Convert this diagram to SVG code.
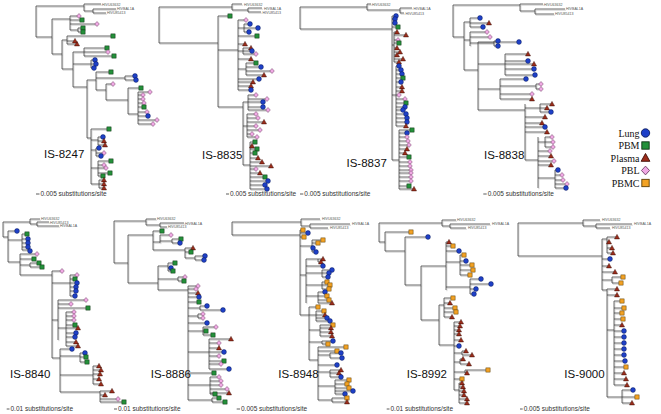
<svg xmlns="http://www.w3.org/2000/svg" xmlns:xlink="http://www.w3.org/1999/xlink" width="661" height="414" viewBox="0 0 661 414">
<style>
.sh{fill:none;stroke:#d4d4d4;stroke-width:1}
.ln{fill:none;stroke:#3a3a3a;stroke-width:0.75}
.bar{stroke:#333;stroke-width:0.8}
.lab{font-family:"Liberation Sans",Arial,sans-serif;font-size:3.6px;fill:#555}
.sc{font-family:"Liberation Sans",Arial,sans-serif;font-size:6.5px;fill:#333}
.is{font-family:"Liberation Sans",Arial,sans-serif;font-size:11.5px;fill:#111}
.lg{font-family:"Liberation Serif","Times New Roman",serif;font-size:10px;fill:#111;text-anchor:end}
</style>
<defs>
<circle id="c" r="2.4" fill="#1e40c8" stroke="#0b1a5a" stroke-width="0.5"/>
<rect id="s" x="-2.1" y="-2.1" width="4.2" height="4.2" fill="#24903a" stroke="#0c2e10" stroke-width="0.5"/>
<path id="t" d="M0,-2.6L2.5,1.9H-2.5Z" fill="#9c2c1a" stroke="#3c0c04" stroke-width="0.5"/>
<path id="d" d="M0,-2.5L2.3,0L0,2.5L-2.3,0Z" fill="#f0a8e4" stroke="#6a3a60" stroke-width="0.5"/>
<rect id="o" x="-2.1" y="-2.1" width="4.2" height="4.2" fill="#f2a224" stroke="#5a3a00" stroke-width="0.5"/>
<path id="p1" d="M36,6V37M36,6H84M84,4V11M84,4H101M84,11H93M93,9V13M93,9H116M93,13H106M36,37H52M52,19V54M52,19H70M70,16V30M70,16H79M70,20H82M70,24H97M70,30H78M78,28V32M78,28H83M78,32H83M52,54H62M62,40V69M62,40H67M67,36V44M67,36H113M67,41H75M67,44H77M62,69H73M73,52V87M73,52H84M84,48V56M84,48H107M84,52H106M84,56H112M73,64H91M91,60V68M91,60H95M91,64H96M91,68H94M73,87H87M87,80V138M87,80H96M96,72V90M96,72H111M96,78H125M125,76V80M125,76H135M125,80H136M96,90H106M106,84V100M106,84H113M106,100H128M128,88V114M128,88H141M128,114H138M138,92V124M138,92H150M138,95H143M138,99H143M138,103H144M138,107H144M138,112H147M138,116H148M138,120H157M138,124H153M87,138H91M91,129V184M91,129H109M91,140H98M98,137V145M98,137H103M98,141H104M98,145H105M91,150H96M96,148V156M96,148H99M96,153H104M96,156H101M91,168H98M98,161V176M98,161H111M98,165H104M98,168H106M98,173H110M98,176H103M91,184H99M99,180V188M99,180H104M99,184H104M99,188H104"/>
<path id="p2" d="M159,7V43M159,7H232M232,4V10M232,4H242M232,10H248M248,8V12M248,8H262M248,12H261M159,43H218M218,16V107M218,16H230M218,50H238M238,20V90M238,20H246M238,28H244M244,24V32M244,24H250M244,28H258M244,32H249M238,36H257M238,44H245M238,51H243M243,48V54M243,48H251M243,51H252M243,54H256M238,59H251M238,69H246M246,63V75M246,63H256M246,67H261M246,71H272M246,75H264M238,79H259M238,82H253M238,86H251M238,90H251M218,107H243M243,102V165M243,102H248M248,95V110M248,95H256M248,99H267M248,102H263M248,107H263M248,110H268M243,126H247M247,114V137M247,114H256M247,118H258M247,122H264M247,126H256M247,130H260M247,134H252M247,137H257M243,165H250M250,142V189M250,142H255M250,146H252M250,149H257M250,153H255M250,158H258M250,162H262M250,166H271M250,169H256M250,173H260M250,177H265M250,181H268M250,185H265M250,189H267"/>
<path id="p3" d="M300,7V29M300,7H367M367,4V10M367,4H371M367,10H400M400,8V13M400,8H412M400,13H404M300,29H392M392,16V160M392,16H396M392,19H395M392,23H395M392,27H398M392,45H394M394,32V62M394,32H397M394,35H406M394,40H398M394,43H399M394,48H397M394,52H400M394,55H397M394,59H403M394,62H399M392,95H396M396,66V126M396,66H399M396,70H401M396,74H402M396,78H403M396,82H401M396,87H402M396,91H402M396,95H399M396,99H405M396,103H406M396,107H405M396,110H403M396,114H406M396,118H407M396,122H407M396,126H406M392,160H399M399,130V189M399,130H412M399,133H407M399,137H407M399,141H408M399,145H409M399,149H407M399,153H405M399,157H409M399,162H410M399,166H410M399,170H411M399,173H411M399,177H411M399,181H411M399,186H409M399,189H414"/>
<path id="p4" d="M453,5V37M453,5H520M520,4V11M520,4H543M520,11H535M535,9V14M535,9H565M535,14H554M453,37H464M464,22V70M464,22H470M470,18V27M470,18H480M470,23H489M470,27H483M464,40H470M470,32V46M470,32H487M470,37H490M470,43H494M494,41V46M494,41H498M494,46H498M464,70H478M478,42V110M478,42H519M478,64H505M505,54V75M505,54H528M505,61H528M505,64H534M505,69H534M505,75H535M478,89H500M500,79V99M500,79H526M500,86H536M536,84V89M536,84H541M536,89H541M500,94H532M500,99H532M478,110H525M525,104V160M525,108H540M540,104V112M540,104H552M540,108H547M540,112H551M525,117H545M525,123H542M525,127H545M525,132H547M525,160H538M538,137V188M538,142H545M545,137V147M545,137H552M545,142H553M545,147H553M538,151H550M538,156H551M538,161H554M538,165H551M538,178H555M555,170V188M555,170H558M555,175H562M555,180H563M555,184H567M555,188H566"/>
<path id="p5" d="M3,222V237M3,222H30M30,219V224M30,219H40M30,224H37M37,222V226M37,222H49M37,226H59M3,237H8M8,231V262M8,231H17M8,240H22M22,234V250M22,234H27M22,239H28M22,243H28M22,247H28M22,250H30M8,262H20M20,254V275M20,254H37M20,259H34M20,265H30M30,263V267M30,263H39M30,267H42M20,275H52M52,271V358M52,271H62M52,283H70M70,275V296M70,275H77M70,279H75M70,283H77M70,287H76M70,291H76M70,296H75M52,320H58M58,300V340M58,300H86M58,304H71M58,308H88M58,328H66M66,312V346M66,312H74M66,316H74M66,320H74M66,325H75M66,328H78M66,333H76M66,337H75M66,342H76M66,346H78M52,358H60M60,349V392M60,349H72M60,356H80M80,353V362M80,353H85M80,357H86M80,362H87M60,375H93M93,366V384M93,366H99M93,370H101M93,374H100M93,379H99M93,384H101M60,392H100M100,391V402M100,391H112M100,395H105M100,399H118M100,402H124"/>
<path id="p6" d="M114,221V263M114,221H146M146,219V225M146,219H156M146,225H160M160,223V227M160,223H184M160,227H167M114,263H128M128,235V283M128,235H153M153,231V250M153,231H162M153,242H160M160,235V243M160,235H171M160,241H172M172,239V243M172,239H181M172,243H180M153,250H185M185,248V258M185,248H193M185,252H191M185,258H195M195,256V260M195,256H205M195,260H204M128,283H158M158,266V290M158,266H168M168,263V271M168,263H175M168,268H171M168,271H173M158,279H178M178,277V281M178,277H185M178,281H184M158,290H188M188,286V400M188,286H198M188,289H196M188,293H198M188,297H199M188,302H199M188,308H200M200,306V310M200,306H207M200,310H223M188,316H198M198,314V318M198,314H203M198,318H203M188,323H207M188,331H203M203,327V335M203,327H216M203,331H206M203,335H213M188,352H209M209,339V369M209,339H231M209,343H219M209,348H219M209,352H224M209,356H219M209,361H224M209,364H221M209,369H229M188,373H214M188,385H210M210,377V394M210,377H219M210,381H221M210,385H221M210,389H227M210,393H229M210,394H215M188,400H212M212,398V402M212,398H219M212,402H225"/>
<path id="p7" d="M232,222V235M232,222H301M301,219V226M301,219H320M301,226H310M310,224V228M310,224H350M310,228H328M232,235H300M300,230V315M300,230H303M300,233H308M300,237H304M300,246H312M312,240V252M312,240H323M312,243H318M312,248H313M312,252H316M300,275H306M306,259V303M306,259H318M318,259V262M318,259H323M318,262H321M306,266H323M306,273H322M322,270V277M322,270H332M322,273H329M322,277H328M306,285H322M322,282V289M322,282H327M322,285H330M322,289H329M306,296H318M318,292V303M318,292H325M318,296H327M318,300H329M318,303H332M300,315H309M309,307V360M309,307H318M309,315H316M316,311V321M316,311H324M316,315H325M316,318H327M316,321H330M309,330H320M320,325V336M320,325H333M320,328H331M320,332H331M320,336H332M309,342H322M322,341V344M322,341H333M322,344H328M309,360H318M318,347V400M318,347H346M318,351H337M318,355H330M330,353V358M330,353H341M330,358H342M318,365H337M318,372H330M330,370V377M330,370H341M330,373H339M330,377H341M318,386H335M335,380V394M335,380H349M335,384H347M335,388H349M335,391H353M335,394H345M318,400H332M332,398V402M332,398H347M332,402H347"/>
<path id="p8" d="M379,223V242M379,223H442M442,220V226M442,220H456M442,226H450M450,224V228M450,224H490M450,228H466M379,242H385M385,232V251M385,232H411M385,251H405M405,237V285M405,237H428M405,285H421M421,266V320M421,266H446M446,242V290M446,242H449M446,246H453M446,251H459M446,262H460M460,255V275M460,255H464M460,261H466M460,265H472M460,270H473M460,275H470M446,287H470M470,279V294M470,279H481M470,284H491M470,289H476M470,294H474M421,320H439M439,305V345M439,305H444M444,298V317M444,298H453M444,303H450M444,308H455M444,312H456M444,317H452M439,345H454M454,322V390M454,322H461M454,326H460M454,330H459M454,334H459M454,340H461M454,346H459M454,353H462M462,351V355M462,351H466M462,355H472M454,362H460M460,359V364M460,359H463M460,364H469M454,372H465M465,370V373M465,370H488M465,373H467M454,379H462M454,390H459M459,383V403M459,383H462M459,387H463M459,391H464M459,395H464M459,399H467M459,403H467"/>
<path id="p9" d="M518,223V256M518,223H583M583,220V226M583,220H600M583,226H596M596,224V228M596,224H632M596,228H610M518,256H602M602,239V290M602,239H607M607,237V253M607,237H617M607,242H609M607,248H612M607,253H613M602,259H610M602,266H609M602,272H615M602,280H612M612,277V283M612,277H623M612,283H621M602,290H607M607,289V397M607,289H617M607,295H617M607,330H614M614,301V385M614,301H622M614,308H624M614,313H622M614,319H623M614,325H622M614,331H624M614,337H624M614,343H624M614,349H624M614,355H624M614,361H625M614,367H626M614,373H624M614,379H626M614,385H627M607,397H622M622,390V403M622,390H633M622,397H637M622,403H632"/>
</defs>
<rect width="661" height="414" fill="#fff"/>

<g id="connectors">
<use href="#p1" class="sh" transform="translate(0.9,1.2)"/>
<use href="#p2" class="sh" transform="translate(0.9,1.2)"/>
<use href="#p3" class="sh" transform="translate(0.9,1.2)"/>
<use href="#p4" class="sh" transform="translate(0.9,1.2)"/>
<use href="#p5" class="sh" transform="translate(0.9,1.2)"/>
<use href="#p6" class="sh" transform="translate(0.9,1.2)"/>
<use href="#p7" class="sh" transform="translate(0.9,1.2)"/>
<use href="#p8" class="sh" transform="translate(0.9,1.2)"/>
<use href="#p9" class="sh" transform="translate(0.9,1.2)"/>
<use href="#p1" class="ln"/>
<use href="#p2" class="ln"/>
<use href="#p3" class="ln"/>
<use href="#p4" class="ln"/>
<use href="#p5" class="ln"/>
<use href="#p6" class="ln"/>
<use href="#p7" class="ln"/>
<use href="#p8" class="ln"/>
<use href="#p9" class="ln"/>
</g>

<g id="tree-IS-8247">
<text class="lab" x="102" y="5.6">HIVU63632</text><text class="lab" x="117" y="10.4">HIVBAL1A</text><text class="lab" x="107" y="14.4">HIVU85413</text>
<use href="#d" x="79" y="16"/><use href="#s" x="82" y="20"/><use href="#d" x="97" y="24"/><use href="#s" x="83" y="28"/><use href="#s" x="83" y="32"/><use href="#s" x="113" y="36"/><use href="#t" x="75" y="41"/><use href="#t" x="77" y="44"/><use href="#s" x="107" y="48"/><use href="#d" x="108" y="52"/><use href="#s" x="114" y="56"/><use href="#c" x="95" y="60"/><use href="#c" x="96" y="64"/><use href="#c" x="94" y="68"/><use href="#s" x="111" y="72"/><use href="#c" x="135" y="76"/><use href="#c" x="136" y="80"/><use href="#d" x="113" y="84"/><use href="#s" x="141" y="88"/><use href="#d" x="150" y="92"/><use href="#d" x="143" y="95"/><use href="#d" x="143" y="99"/><use href="#d" x="144" y="103"/><use href="#s" x="144" y="107"/><use href="#d" x="147" y="112"/><use href="#c" x="148" y="116"/><use href="#d" x="157" y="120"/><use href="#d" x="153" y="124"/><use href="#s" x="109" y="129"/><use href="#c" x="103" y="137"/><use href="#t" x="104" y="141"/><use href="#t" x="105" y="145"/><use href="#c" x="99" y="148"/><use href="#d" x="104" y="153"/><use href="#c" x="101" y="156"/><use href="#s" x="111" y="161"/><use href="#d" x="104" y="165"/><use href="#d" x="106" y="168"/><use href="#s" x="110" y="173"/><use href="#s" x="103" y="176"/><use href="#t" x="104" y="180"/><use href="#t" x="104" y="184"/><use href="#t" x="104" y="188"/>
<text class="is" x="44" y="158">IS-8247</text>
<line class="bar" x1="36" y1="194" x2="39.5" y2="194"/><text class="sc" x="40.5" y="196.3">0.005 substitutions/site</text>
</g>

<g id="tree-IS-8835">
<text class="lab" x="244" y="5.6">HIVU63632</text><text class="lab" x="264" y="9.5">HIVBAL1A</text><text class="lab" x="262.5" y="13.5">HIVU85413</text>
<use href="#s" x="230" y="16"/><use href="#d" x="246" y="20"/><use href="#c" x="250" y="24"/><use href="#c" x="258" y="28"/><use href="#c" x="249" y="32"/><use href="#s" x="257" y="36"/><use href="#t" x="245" y="44"/><use href="#t" x="251" y="48"/><use href="#c" x="252" y="51"/><use href="#d" x="256" y="54"/><use href="#t" x="251" y="59"/><use href="#s" x="256" y="63"/><use href="#c" x="261" y="67"/><use href="#d" x="272" y="71"/><use href="#t" x="264" y="75"/><use href="#c" x="259" y="79"/><use href="#t" x="253" y="82"/><use href="#t" x="251" y="86"/><use href="#c" x="251" y="90"/><use href="#d" x="256" y="95"/><use href="#d" x="267" y="99"/><use href="#c" x="263" y="102"/><use href="#c" x="263" y="107"/><use href="#d" x="268" y="110"/><use href="#d" x="256" y="114"/><use href="#d" x="258" y="118"/><use href="#t" x="264" y="122"/><use href="#d" x="256" y="126"/><use href="#d" x="260" y="130"/><use href="#d" x="252" y="134"/><use href="#d" x="257" y="137"/><use href="#s" x="255" y="142"/><use href="#t" x="252" y="146"/><use href="#s" x="257" y="149"/><use href="#s" x="255" y="153"/><use href="#t" x="258" y="158"/><use href="#t" x="262" y="162"/><use href="#t" x="271" y="166"/><use href="#d" x="256" y="169"/><use href="#t" x="260" y="173"/><use href="#s" x="265" y="177"/><use href="#c" x="268" y="181"/><use href="#c" x="265" y="185"/><use href="#c" x="267" y="189"/>
<text class="is" x="202" y="159">IS-8835</text>
<line class="bar" x1="226" y1="194" x2="229" y2="194"/><text class="sc" x="230" y="196.3">0.005 substitutions/site</text>
</g>

<g id="tree-IS-8837">
<text class="lab" x="372" y="5.6">HIVU63632</text><text class="lab" x="413.5" y="9.6">HIVBAL1A</text><text class="lab" x="405.5" y="14.6">HIVU85413</text>
<use href="#c" x="396" y="16"/><use href="#c" x="395" y="19"/><use href="#c" x="395" y="23"/><use href="#s" x="398" y="27"/><use href="#t" x="397" y="32"/><use href="#t" x="406" y="35"/><use href="#d" x="398" y="40"/><use href="#s" x="399" y="43"/><use href="#t" x="397" y="48"/><use href="#t" x="400" y="52"/><use href="#t" x="397" y="55"/><use href="#t" x="403" y="59"/><use href="#t" x="399" y="62"/><use href="#c" x="399" y="66"/><use href="#c" x="401" y="70"/><use href="#c" x="402" y="74"/><use href="#s" x="403" y="78"/><use href="#c" x="401" y="82"/><use href="#t" x="402" y="87"/><use href="#t" x="402" y="91"/><use href="#d" x="399" y="95"/><use href="#d" x="405" y="99"/><use href="#s" x="406" y="103"/><use href="#c" x="405" y="107"/><use href="#c" x="403" y="110"/><use href="#c" x="406" y="114"/><use href="#c" x="407" y="118"/><use href="#c" x="407" y="122"/><use href="#t" x="406" y="126"/><use href="#s" x="412" y="130"/><use href="#c" x="407" y="133"/><use href="#d" x="407" y="137"/><use href="#d" x="408" y="141"/><use href="#d" x="409" y="145"/><use href="#t" x="407" y="149"/><use href="#t" x="405" y="153"/><use href="#s" x="409" y="157"/><use href="#d" x="410" y="162"/><use href="#d" x="410" y="166"/><use href="#d" x="411" y="170"/><use href="#d" x="411" y="173"/><use href="#d" x="411" y="177"/><use href="#d" x="411" y="181"/><use href="#s" x="409" y="186"/><use href="#t" x="414" y="189"/>
<text class="is" x="346.5" y="166.5">IS-8837</text>
<line class="bar" x1="300" y1="194" x2="303.3" y2="194"/><text class="sc" x="304.3" y="196.3">0.005 substitutions/site</text>
</g>

<g id="tree-IS-8838">
<text class="lab" x="544" y="5.6">HIVU63632</text><text class="lab" x="566" y="10.4">HIVBAL1A</text><text class="lab" x="555" y="15.4">HIVU85413</text>
<use href="#c" x="480" y="18"/><use href="#t" x="489" y="23"/><use href="#c" x="483" y="27"/><use href="#d" x="487" y="32"/><use href="#d" x="490" y="37"/><use href="#c" x="498" y="41"/><use href="#c" x="498" y="46"/><use href="#c" x="519" y="42"/><use href="#t" x="528" y="54"/><use href="#c" x="528" y="61"/><use href="#t" x="534" y="64"/><use href="#c" x="534" y="69"/><use href="#c" x="535" y="75"/><use href="#c" x="526" y="79"/><use href="#d" x="541" y="84"/><use href="#d" x="541" y="89"/><use href="#d" x="532" y="94"/><use href="#t" x="532" y="99"/><use href="#t" x="552" y="104"/><use href="#t" x="547" y="108"/><use href="#c" x="551" y="112"/><use href="#t" x="545" y="117"/><use href="#t" x="542" y="123"/><use href="#c" x="545" y="127"/><use href="#t" x="547" y="132"/><use href="#d" x="552" y="137"/><use href="#d" x="553" y="142"/><use href="#d" x="553" y="147"/><use href="#d" x="550" y="151"/><use href="#t" x="551" y="156"/><use href="#d" x="554" y="161"/><use href="#t" x="551" y="165"/><use href="#c" x="558" y="170"/><use href="#d" x="562" y="175"/><use href="#d" x="563" y="180"/><use href="#d" x="567" y="184"/><use href="#c" x="566" y="188"/>
<text class="is" x="484" y="159">IS-8838</text>
<line class="bar" x1="483.3" y1="194" x2="486.7" y2="194"/><text class="sc" x="487.7" y="196.3">0.005 substitutions/site</text>
</g>

<g id="legend">
<text class="lg" x="639.5" y="136.5">Lung</text><use href="#c" transform="translate(645.5,133) scale(1.75)"/>
<text class="lg" x="639.5" y="149">PBM</text><use href="#s" transform="translate(645.5,145.5) scale(1.75)"/>
<text class="lg" x="639.5" y="161.5">Plasma</text><use href="#t" transform="translate(645.5,158) scale(1.75)"/>
<text class="lg" x="639.5" y="174">PBL</text><use href="#d" transform="translate(645.5,170.5) scale(1.75)"/>
<text class="lg" x="639.5" y="186.5">PBMC</text><use href="#o" transform="translate(645.5,183) scale(1.75)"/>
</g>

<g id="tree-IS-8840">
<text class="lab" x="41" y="220.3">HIVU63632</text><text class="lab" x="50" y="223.6">HIVU85413</text><text class="lab" x="60" y="227.4">HIVBAL1A</text>
<use href="#c" x="17" y="231"/><use href="#s" x="27" y="234"/><use href="#c" x="28" y="239"/><use href="#c" x="28" y="243"/><use href="#c" x="28" y="247"/><use href="#c" x="30" y="251"/><use href="#d" x="37" y="254"/><use href="#s" x="34" y="259"/><use href="#s" x="39" y="263"/><use href="#s" x="42" y="267"/><use href="#d" x="62" y="271"/><use href="#d" x="77" y="275"/><use href="#s" x="75" y="279"/><use href="#c" x="77" y="283"/><use href="#c" x="76" y="287"/><use href="#c" x="76" y="291"/><use href="#c" x="75" y="296"/><use href="#d" x="86" y="300"/><use href="#d" x="71" y="304"/><use href="#s" x="88" y="308"/><use href="#d" x="74" y="312"/><use href="#d" x="74" y="316"/><use href="#d" x="74" y="320"/><use href="#s" x="75" y="325"/><use href="#t" x="78" y="328"/><use href="#c" x="76" y="333"/><use href="#c" x="75" y="337"/><use href="#t" x="76" y="342"/><use href="#t" x="78" y="346"/><use href="#c" x="72" y="349"/><use href="#c" x="85" y="353"/><use href="#s" x="86" y="357"/><use href="#s" x="87" y="362"/><use href="#t" x="99" y="366"/><use href="#t" x="101" y="370"/><use href="#t" x="100" y="374"/><use href="#t" x="99" y="379"/><use href="#t" x="101" y="384"/><use href="#t" x="112" y="391"/><use href="#t" x="105" y="395"/><use href="#d" x="118" y="399"/><use href="#s" x="124" y="402"/>
<text class="is" x="10" y="377.7">IS-8840</text>
<line class="bar" x1="6.7" y1="409" x2="9.5" y2="409"/><text class="sc" x="10.5" y="411.3">0.01 substitutions/site</text>
</g>

<g id="tree-IS-8886">
<text class="lab" x="157" y="220.3">HIVU63632</text><text class="lab" x="185" y="224.8">HIVBAL1A</text><text class="lab" x="168" y="228.4">HIVU85413</text>
<use href="#s" x="162" y="231"/><use href="#d" x="171" y="235"/><use href="#s" x="181" y="239"/><use href="#c" x="180" y="243"/><use href="#t" x="193" y="248"/><use href="#s" x="191" y="252"/><use href="#c" x="205" y="256"/><use href="#c" x="204" y="260"/><use href="#s" x="175" y="263"/><use href="#c" x="171" y="268"/><use href="#s" x="173" y="271"/><use href="#d" x="185" y="277"/><use href="#s" x="184" y="281"/><use href="#d" x="198" y="286"/><use href="#d" x="196" y="289"/><use href="#t" x="198" y="293"/><use href="#c" x="199" y="297"/><use href="#s" x="199" y="302"/><use href="#c" x="207" y="306"/><use href="#c" x="223" y="310"/><use href="#d" x="203" y="314"/><use href="#d" x="203" y="318"/><use href="#c" x="207" y="323"/><use href="#d" x="216" y="327"/><use href="#s" x="206" y="331"/><use href="#s" x="213" y="335"/><use href="#t" x="231" y="339"/><use href="#d" x="219" y="343"/><use href="#t" x="219" y="348"/><use href="#c" x="224" y="352"/><use href="#d" x="219" y="356"/><use href="#s" x="224" y="361"/><use href="#d" x="221" y="364"/><use href="#c" x="229" y="369"/><use href="#s" x="214" y="373"/><use href="#d" x="219" y="377"/><use href="#d" x="221" y="381"/><use href="#d" x="221" y="385"/><use href="#d" x="227" y="389"/><use href="#t" x="229" y="393"/><use href="#s" x="215" y="394"/><use href="#s" x="219" y="398"/><use href="#s" x="225" y="402"/>
<text class="is" x="150.7" y="377.7">IS-8886</text>
<line class="bar" x1="114" y1="409" x2="117" y2="409"/><text class="sc" x="118" y="411.3">0.01 substitutions/site</text>
</g>

<g id="tree-IS-8948">
<text class="lab" x="322" y="220.3">HIVU63632</text><text class="lab" x="352" y="225.3">HIVBAL1A</text><text class="lab" x="330" y="229.3">HIVU85413</text>
<use href="#o" x="303" y="230"/><use href="#c" x="308" y="233"/><use href="#o" x="304" y="237"/><use href="#o" x="323" y="240"/><use href="#o" x="318" y="243"/><use href="#c" x="313" y="248"/><use href="#c" x="316" y="252"/><use href="#t" x="323" y="259"/><use href="#t" x="321" y="262"/><use href="#c" x="323" y="266"/><use href="#c" x="332" y="270"/><use href="#c" x="329" y="273"/><use href="#c" x="328" y="277"/><use href="#o" x="327" y="282"/><use href="#o" x="330" y="285"/><use href="#o" x="329" y="289"/><use href="#c" x="325" y="292"/><use href="#o" x="327" y="296"/><use href="#o" x="329" y="300"/><use href="#t" x="332" y="303"/><use href="#o" x="318" y="307"/><use href="#o" x="324" y="311"/><use href="#t" x="325" y="315"/><use href="#c" x="327" y="318"/><use href="#c" x="330" y="321"/><use href="#o" x="333" y="325"/><use href="#t" x="331" y="328"/><use href="#t" x="331" y="332"/><use href="#t" x="332" y="336"/><use href="#c" x="333" y="341"/><use href="#o" x="328" y="344"/><use href="#o" x="346" y="347"/><use href="#o" x="337" y="351"/><use href="#c" x="341" y="353"/><use href="#c" x="342" y="358"/><use href="#c" x="337" y="365"/><use href="#t" x="341" y="370"/><use href="#t" x="339" y="373"/><use href="#c" x="341" y="377"/><use href="#o" x="349" y="380"/><use href="#o" x="347" y="384"/><use href="#o" x="349" y="388"/><use href="#c" x="353" y="391"/><use href="#c" x="345" y="394"/><use href="#o" x="347" y="398"/><use href="#t" x="347" y="402"/>
<text class="is" x="278.3" y="377.7">IS-8948</text>
<line class="bar" x1="236.7" y1="409" x2="240" y2="409"/><text class="sc" x="241" y="411.3">0.005 substitutions/site</text>
</g>

<g id="tree-IS-8992">
<text class="lab" x="457" y="221.3">HIVU63632</text><text class="lab" x="492" y="225.3">HIVBAL1A</text><text class="lab" x="468" y="229.3">HIVU85413</text>
<use href="#o" x="411" y="232"/><use href="#c" x="428" y="237"/><use href="#t" x="449" y="242"/><use href="#o" x="453" y="246"/><use href="#c" x="459" y="251"/><use href="#o" x="464" y="255"/><use href="#c" x="466" y="261"/><use href="#o" x="472" y="265"/><use href="#o" x="473" y="270"/><use href="#o" x="470" y="275"/><use href="#c" x="481" y="279"/><use href="#c" x="491" y="284"/><use href="#c" x="476" y="289"/><use href="#c" x="474" y="294"/><use href="#o" x="453" y="298"/><use href="#t" x="450" y="303"/><use href="#o" x="455" y="308"/><use href="#o" x="456" y="312"/><use href="#t" x="452" y="317"/><use href="#t" x="461" y="322"/><use href="#t" x="460" y="326"/><use href="#t" x="459" y="330"/><use href="#t" x="459" y="334"/><use href="#t" x="461" y="340"/><use href="#c" x="459" y="346"/><use href="#t" x="466" y="351"/><use href="#t" x="472" y="355"/><use href="#t" x="463" y="359"/><use href="#t" x="469" y="364"/><use href="#o" x="488" y="370"/><use href="#t" x="467" y="373"/><use href="#o" x="462" y="379"/><use href="#t" x="462" y="383"/><use href="#t" x="463" y="387"/><use href="#t" x="464" y="391"/><use href="#t" x="464" y="395"/><use href="#t" x="467" y="399"/><use href="#t" x="467" y="403"/>
<text class="is" x="406.7" y="377.7">IS-8992</text>
<line class="bar" x1="386.7" y1="409" x2="389.5" y2="409"/><text class="sc" x="390.5" y="411.3">0.01 substitutions/site</text>
</g>

<g id="tree-IS-9000">
<text class="lab" x="602" y="221.3">HIVU63632</text><text class="lab" x="634" y="225.3">HIVBAL1A</text><text class="lab" x="612" y="229.3">HIVU85413</text>
<use href="#t" x="617" y="237"/><use href="#t" x="609" y="242"/><use href="#t" x="612" y="248"/><use href="#t" x="613" y="253"/><use href="#c" x="610" y="259"/><use href="#t" x="609" y="266"/><use href="#t" x="615" y="272"/><use href="#o" x="623" y="277"/><use href="#o" x="621" y="283"/><use href="#t" x="617" y="289"/><use href="#t" x="617" y="295"/><use href="#o" x="622" y="301"/><use href="#o" x="624" y="308"/><use href="#o" x="622" y="313"/><use href="#o" x="623" y="319"/><use href="#t" x="622" y="325"/><use href="#c" x="624" y="331"/><use href="#c" x="624" y="337"/><use href="#c" x="624" y="343"/><use href="#c" x="624" y="349"/><use href="#c" x="624" y="355"/><use href="#c" x="625" y="361"/><use href="#o" x="626" y="367"/><use href="#t" x="624" y="373"/><use href="#t" x="626" y="379"/><use href="#t" x="627" y="385"/><use href="#c" x="633" y="390"/><use href="#o" x="637" y="397"/><use href="#t" x="632" y="403"/>
<text class="is" x="564.3" y="377.7">IS-9000</text>
<line class="bar" x1="520" y1="409" x2="522.7" y2="409"/><text class="sc" x="523.7" y="411.3">0.005 substitutions/site</text>
</g>
</svg>
